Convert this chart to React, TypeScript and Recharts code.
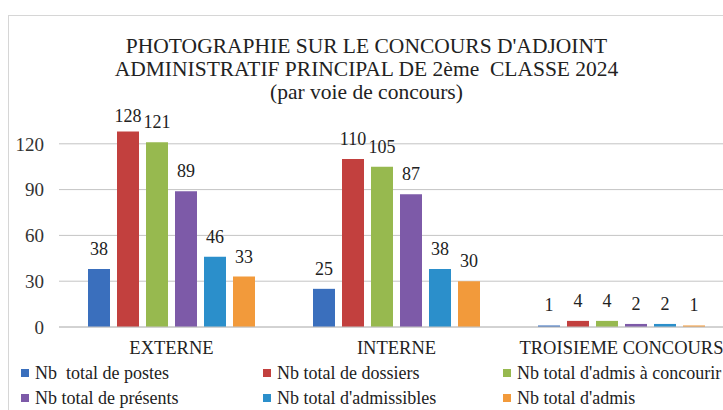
import React from 'react';
import { BarChart, Bar, XAxis, YAxis, CartesianGrid, LabelList } from 'recharts';

const categories = ['EXTERNE', 'INTERNE', 'TROISIEME CONCOURS'];
const postes = [38, 25, 1];
const dossiers = [128, 110, 4];
const admisConcourir = [121, 105, 4];
const presents = [89, 87, 2];
const admissibles = [46, 38, 2];
const admis = [33, 30, 1];
const yTicks = [0, 30, 60, 90, 120];

const series = [
  { key: 'postes', name: 'Nb  total de postes', values: postes, color: '#3a6fbd' },
  { key: 'dossiers', name: 'Nb total de dossiers', values: dossiers, color: '#c2403e' },
  { key: 'admisConcourir', name: "Nb total d'admis à concourir", values: admisConcourir, color: '#97b94f' },
  { key: 'presents', name: 'Nb total de présents', values: presents, color: '#7d5aa8' },
  { key: 'admissibles', name: "Nb total d'admissibles", values: admissibles, color: '#2b8fcb' },
  { key: 'admis', name: "Nb total d'admis", values: admis, color: '#f29a3b' },
];

const data = categories.map((c, i) => {
  const row: Record<string, string | number> = { name: c };
  series.forEach((s) => { row[s.key] = s.values[i]; });
  return row;
});

const FONT = '"Liberation Serif", "DejaVu Serif", serif';

// Excel keeps value labels inside the plot area, so clamp the top ones
const ValueLabel = (props: any) => {
  const { x, y, width, value } = props;
  const ty = Math.max(y - 14, 106);
  return (
    <text x={x + width / 2} y={ty} textAnchor="middle" fontFamily={FONT} fontSize={18} fill="#222">
      {value}
    </text>
  );
};

export default function App() {
  return (
    <div style={{ position: 'absolute', left: 0, top: 0, width: 723, height: 410, background: '#fff', overflow: 'hidden' }}>
      <div style={{ position: 'absolute', left: 8, top: 15, width: 715, height: 395, borderTop: '1px solid #d6d6d6', borderLeft: '1px solid #d6d6d6', overflow: 'hidden' }}>
        <div style={{ position: 'absolute', left: 0, top: 19, width: 715, textAlign: 'center', fontFamily: FONT, fontSize: 21.5, lineHeight: '23px', color: '#222' }}>
          <div>PHOTOGRAPHIE SUR LE CONCOURS D'ADJOINT</div>
          <div style={{ whiteSpace: 'pre' }}>{'ADMINISTRATIF PRINCIPAL DE 2ème  CLASSE 2024'}</div>
          <div>(par voie de concours)</div>
        </div>
        <BarChart
          width={740}
          height={395}
          data={data}
          margin={{ top: 82, right: 15, bottom: 54, left: 0 }}
          barSize={22}
          barGap={7}
          barCategoryGap={29}
        >
          <CartesianGrid vertical={false} stroke="#c4c4c4" horizontalValues={yTicks} />
          <XAxis
            dataKey="name"
            axisLine={{ stroke: '#c4c4c4' }}
            tickLine={false}
            tickMargin={8}
            tick={{ fontFamily: FONT, fontSize: 18.5, fill: '#222' }}
          />
          <YAxis
            width={50}
            domain={[0, 150]}
            ticks={yTicks}
            axisLine={false}
            tickLine={false}
            tickMargin={9}
            tick={{ fontFamily: FONT, fontSize: 19, fill: '#333' }}
          />
          {series.map((s) => (
            <Bar key={s.key} dataKey={s.key} name={s.name} fill={s.color} isAnimationActive={false}>
              <LabelList dataKey={s.key} content={ValueLabel} />
            </Bar>
          ))}
        </BarChart>
        <div style={{ position: 'absolute', left: 12, top: 346, width: 740, display: 'grid', gridTemplateColumns: '242px 240px 258px', rowGap: 3, fontFamily: FONT, fontSize: 18, color: '#222' }}>
          {series.map((s) => (
            <div key={s.key} style={{ display: 'flex', alignItems: 'center', whiteSpace: 'pre', lineHeight: '22px' }}>
              <span style={{ display: 'inline-block', width: 8, height: 8, background: s.color, marginRight: 6 }} />
              {s.name}
            </div>
          ))}
        </div>
      </div>
    </div>
  );
}
